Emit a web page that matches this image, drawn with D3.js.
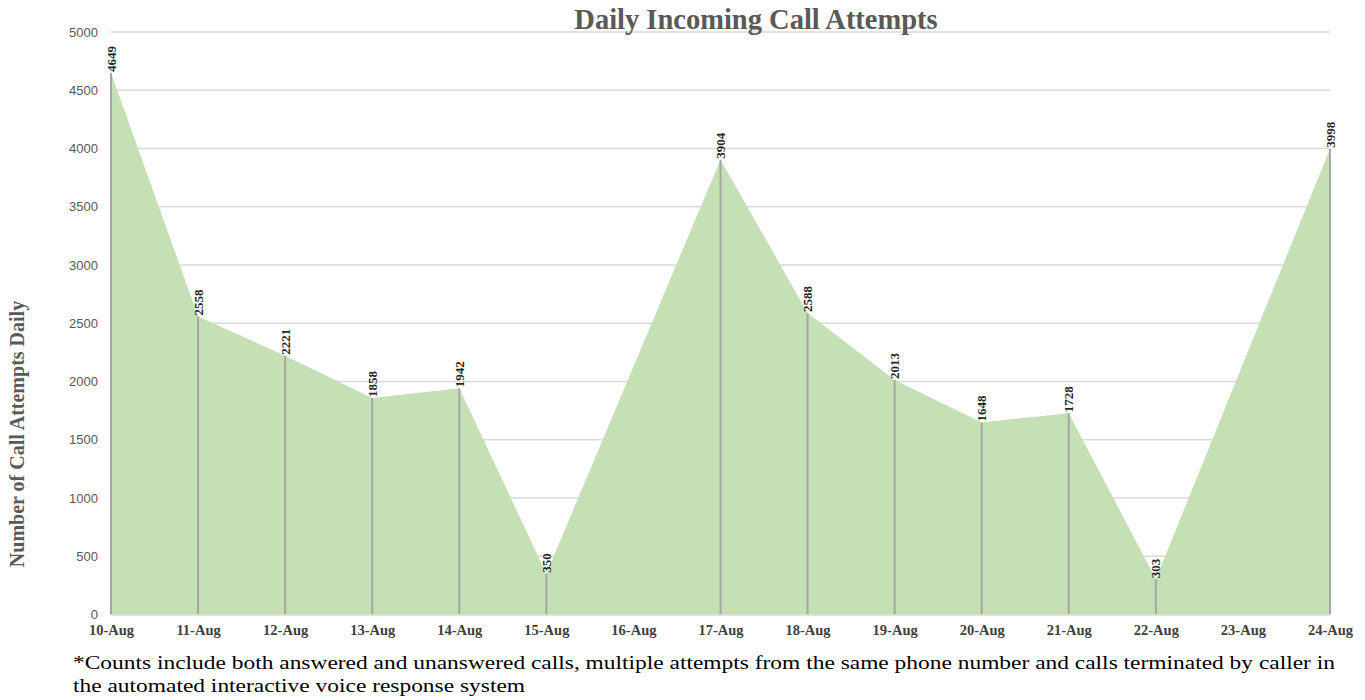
<!doctype html>
<html>
<head>
    <style>
        body { margin: 0; background: #fff; }
        .grid line { stroke: #d9d9d9; stroke-width: 1.3; }
        .area { fill: #c5e0b4; }
        .drop { stroke: #a6a6a6; stroke-width: 2; }
        .val { font-family: "Liberation Serif", serif; font-weight: bold; font-size: 13px; fill: #262626; }
    </style>
    <script src="https://d3js.org/d3.v7.min.js"></script>
</head>
<body>
<svg width="1365" height="700"></svg>
<script>

    var days = ["10-Aug", "11-Aug", "12-Aug", "13-Aug", "14-Aug", "15-Aug", "16-Aug", "17-Aug",
                "18-Aug", "19-Aug", "20-Aug", "21-Aug", "22-Aug", "23-Aug", "24-Aug"];
    // 16-Aug and 23-Aug have no value in the source chart
    var calls = [4649, 2558, 2221, 1858, 1942, 350, null, 3904, 2588, 2013, 1648, 1728, 303, null, 3998];
    var yTicks = [0, 500, 1000, 1500, 2000, 2500, 3000, 3500, 4000, 4500, 5000];

    var data = days.map(function(d, i) { return {day: d, v: calls[i]}; });

    var svg = d3.select("svg");
    var plotL = 111, plotR = 1330, plotT = 32, plotB = 614.5;

    var x = d3.scalePoint().domain(days).range([plotL, plotR]);
    var y = d3.scaleLinear().domain([0, 5000]).range([plotB, plotT]);

    // gridlines
    svg.append("g")
        .attr("class", "grid")
        .selectAll("line")
        .data(yTicks.slice(1))
        .enter().append("line")
        .attr("x1", plotL)
        .attr("x2", plotR)
        .attr("y1", function(d) { return y(d); })
        .attr("y2", function(d) { return y(d); });

    // title
    svg.append("text")
        .attr("x", 756)
        .attr("y", 29)
        .attr("text-anchor", "middle")
        .attr("font-family", "Liberation Serif, serif")
        .attr("font-weight", "bold")
        .attr("font-size", "28.5px")
        .attr("fill", "#595959")
        .text("Daily Incoming Call Attempts");

    // area, skipping the missing days
    var known = data.filter(function(d) { return d.v !== null; });
    var area = d3.area()
        .x(function(d) { return x(d.day); })
        .y0(y(0))
        .y1(function(d) { return y(d.v); });

    svg.append("path")
        .datum(known)
        .attr("class", "area")
        .attr("d", area);

    // drop lines
    svg.selectAll(".drop")
        .data(known)
        .enter().append("line")
        .attr("class", "drop")
        .attr("x1", function(d) { return x(d.day); })
        .attr("x2", function(d) { return x(d.day); })
        .attr("y1", function(d) { return y(d.v); })
        .attr("y2", y(0));

    // data labels
    svg.selectAll(".val")
        .data(known)
        .enter().append("text")
        .attr("class", "val")
        .attr("transform", function(d) {
            return "translate(" + (x(d.day) + 4.5) + "," + (y(d.v) - 1) + ") rotate(-90)";
        })
        .text(function(d) { return d.v; });

    // y axis labels
    var yAxis = svg.append("g")
        .attr("transform", "translate(" + (plotL - 13) + ",0)")
        .call(d3.axisLeft(y).tickValues(yTicks).tickFormat(d3.format("d")).tickSize(0).tickPadding(0));
    yAxis.select(".domain").remove();
    yAxis.selectAll("text")
        .attr("font-family", "Liberation Sans, sans-serif")
        .attr("font-size", "13px")
        .attr("fill", "#595959");

    // x axis labels
    var xAxis = svg.append("g")
        .attr("transform", "translate(0," + plotB + ")")
        .call(d3.axisBottom(x).tickSize(0).tickPadding(10));
    xAxis.select(".domain")
        .attr("stroke", "#d9d9d9")
        .attr("stroke-width", 1.3);
    xAxis.selectAll("text")
        .attr("font-family", "Liberation Serif, serif")
        .attr("font-weight", "bold")
        .attr("font-size", "14.5px")
        .attr("fill", "#404040");

    // y axis title
    svg.append("text")
        .attr("transform", "translate(24,434) rotate(-90)")
        .attr("text-anchor", "middle")
        .attr("font-family", "Liberation Serif, serif")
        .attr("font-weight", "bold")
        .attr("font-size", "20px")
        .attr("fill", "#595959")
        .text("Number of Call Attempts Daily");

    // footnote
    var note = svg.append("text")
        .attr("font-family", "Liberation Serif, serif")
        .attr("font-size", "19.5px")
        .attr("fill", "#000");
    note.append("tspan")
        .attr("x", 73).attr("y", 669)
        .attr("textLength", 1262)
        .attr("lengthAdjust", "spacingAndGlyphs")
        .text("*Counts include both answered and unanswered calls, multiple attempts from the same phone number and calls terminated by caller in");
    note.append("tspan")
        .attr("x", 73).attr("y", 692)
        .attr("textLength", 452)
        .attr("lengthAdjust", "spacingAndGlyphs")
        .text("the automated interactive voice response system");

</script>
</body>
</html>
